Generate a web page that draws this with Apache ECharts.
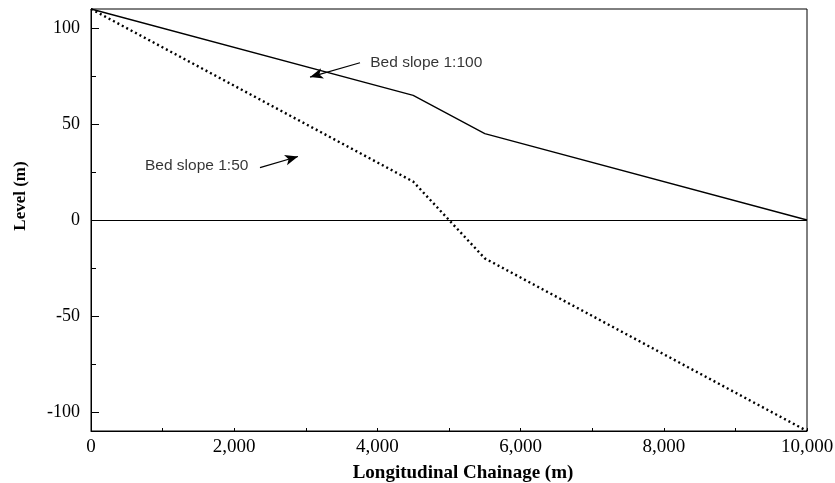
<!DOCTYPE html>
<html>
<head>
    <meta charset="utf-8">
    <script src="https://cdn.jsdelivr.net/npm/echarts@6/dist/echarts.min.js"></script>
</head>
<body style="margin:0;background:#fff;">
    <div id="main" style="width:835px;height:483px;"></div>
    <script type="text/javascript">
        // chainage (m) of break points
        var chainage = [0, 4500, 5500, 10000];
        // bed slope 1:100 (solid) and 1:50 (dotted) levels (m)
        var slope100 = [110, 65, 45, 0];
        var slope50 = [110, 20, -20, -110];

        var yTicks = [-100, -50, 0, 50, 100];
        var yMinorTicks = [-75, -25, 25, 75];

        // annotation text anchors [x, y] in data units
        var labels = [
            { text: 'Bed slope 1:100', at: [3900, 82] },
            { text: 'Bed slope 1:50', at: [754, 28.5] }
        ];
        // annotation arrows [from, to]
        var arrows = [
            [[3757, 82], [3059, 74.5]],
            [[2360, 27.3], [2891, 33.1]]
        ];

        function pairs(xs, ys) {
            var out = [];
            for (var i = 0; i < xs.length; i++) out.push([xs[i], ys[i]]);
            return out;
        }

        var myChart = echarts.init(document.getElementById('main'));
        var serif = '"Liberation Serif", "Times New Roman", serif';

        var option = {
            animation: false,
            grid: {
                left: 91, right: 28, top: 9, bottom: 52,
                outerBoundsMode: 'none',
                containLabel: false,
                show: true, borderColor: '#000', borderWidth: 1
            },
            xAxis: {
                type: 'value',
                min: 0, max: 10000, interval: 2000,
                name: 'Longitudinal Chainage (m)',
                nameLocation: 'middle',
                nameGap: 33,
                nameTextStyle: { fontFamily: serif, fontWeight: 'bold', fontSize: 19, color: '#000', padding: [0, 0, 0, 28] },
                axisLine: { onZero: false, lineStyle: { color: '#000', width: 1 } },
                axisTick: { inside: true, length: 3, lineStyle: { color: '#000' } },
                minorTick: { show: true, splitNumber: 2, length: 3, lineStyle: { color: '#000' } },
                splitLine: { show: false },
                axisLabel: {
                    fontFamily: serif, fontSize: 19, color: '#000', margin: 7,
                    formatter: function (v) { return v.toLocaleString('en-US'); }
                }
            },
            yAxis: [{
                type: 'value',
                min: -110, max: 110,
                name: 'Level (m)',
                nameLocation: 'middle',
                nameGap: 62,
                nameTextStyle: { fontFamily: serif, fontWeight: 'bold', fontSize: 17, color: '#000', padding: [0, 0, 0, 48] },
                axisLine: { onZero: false, lineStyle: { color: '#000', width: 1 } },
                axisTick: { inside: true, length: 8, customValues: yTicks, lineStyle: { color: '#000' } },
                splitLine: { show: false },
                axisLabel: { fontFamily: serif, fontSize: 18, color: '#000', margin: 11, customValues: yTicks }
            }, {
                type: 'value',
                min: -110, max: 110,
                position: 'left',
                axisLine: { show: false, onZero: false },
                axisTick: { inside: true, length: 5, customValues: yMinorTicks, lineStyle: { color: '#000' } },
                splitLine: { show: false },
                axisLabel: { show: false, customValues: yMinorTicks }
            }],
            series: [
                {
                    name: 'Bed slope 1:100',
                    type: 'line',
                    data: pairs(chainage, slope100),
                    showSymbol: false,
                    lineStyle: { color: '#000', width: 1.3 },
                    markLine: {
                        silent: true,
                        symbol: 'none',
                        label: { show: false },
                        lineStyle: { color: '#000', width: 1, type: 'solid' },
                        data: [{ yAxis: 0 }]
                    }
                },
                {
                    name: 'Bed slope 1:50',
                    type: 'line',
                    data: pairs(chainage, slope50),
                    showSymbol: false,
                    lineStyle: { color: '#000', width: 2.4, type: [2, 3] }
                },
                {
                    name: 'arrows',
                    type: 'line',
                    data: [],
                    markLine: {
                        silent: true,
                        symbol: ['none', 'arrow'],
                        symbolSize: [8, 13],
                        label: { show: false },
                        lineStyle: { color: '#000', width: 1.2, type: 'solid' },
                        data: arrows.map(function (a) {
                            return [{ coord: a[0] }, { coord: a[1] }];
                        })
                    }
                },
                {
                    name: 'labels',
                    type: 'scatter',
                    symbolSize: 0,
                    data: labels.map(function (l) { return { value: l.at, name: l.text }; }),
                    label: {
                        show: true,
                        position: 'right',
                        distance: 0,
                        formatter: '{b}',
                        fontFamily: '"Liberation Sans", Arial, sans-serif',
                        fontSize: 15.5,
                        color: '#000'
                    }
                }
            ]
        };
        myChart.setOption(option);
    </script>
</body>
</html>
